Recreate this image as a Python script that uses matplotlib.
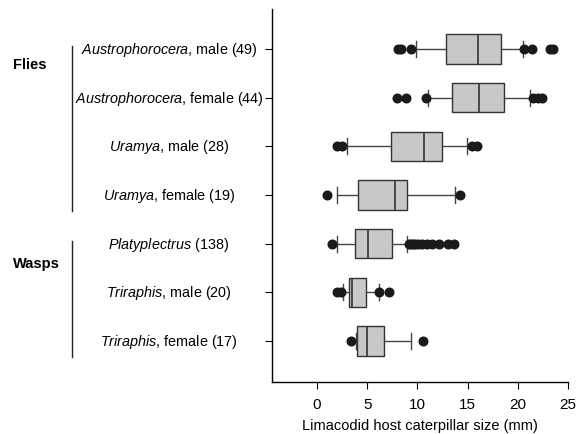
import matplotlib
matplotlib.use("Agg")
import matplotlib.pyplot as plt
import matplotlib.transforms as mtransforms

plt.rcParams["font.family"] = ["Liberation Sans", "DejaVu Sans"]
plt.rcParams["mathtext.fontset"] = "custom"
plt.rcParams["mathtext.rm"] = "Liberation Sans"
plt.rcParams["mathtext.it"] = "Liberation Sans:italic"

# genus part is set in italics
genera = ["Austrophorocera", "Austrophorocera", "Uramya", "Uramya",
          "Platyplectrus", "Triraphis", "Triraphis"]
suffixes = [", male (49)", ", female (44)", ", male (28)", ", female (19)",
            " (138)", ", male (20)", ", female (17)"]

whislo = [9.85, 11.1, 2.95, 2.0, 2.0, 2.55, 3.85]
q1 = [12.9, 13.4, 7.36, 4.08, 3.78, 3.18, 3.98]
med = [16.0, 16.1, 10.65, 7.76, 5.04, 3.45, 5.0]
q3 = [18.3, 18.6, 12.44, 8.96, 7.5, 4.9, 6.63]
whishi = [20.5, 21.2, 14.96, 13.7, 9.0, 6.17, 9.32]
fliers = [
    [8.1, 8.4, 9.4, 20.6, 21.4, 23.2, 23.5],
    [8.0, 8.9, 10.9, 21.5, 22.0, 22.4],
    [1.95, 2.45, 15.4, 15.95],
    [1.03, 14.2],
    [1.5, 9.2, 9.4, 9.6, 9.8, 10.1, 10.5, 11.0, 11.5, 12.2, 13.0, 13.6],
    [1.96, 2.36, 6.17, 7.16],
    [3.38, 10.6],
]

groups = ["Flies", "Wasps"]
group_rows = [(1, 4), (5, 7)]

stats = []
for i in range(len(genera)):
    stats.append({"whislo": whislo[i], "q1": q1[i], "med": med[i], "q3": q3[i],
                  "whishi": whishi[i], "fliers": fliers[i]})

fig = plt.figure(figsize=(5.76, 4.35), dpi=100)
ax = fig.add_axes([0.472, 0.12, 0.514, 0.857])

positions = list(range(1, len(genera) + 1))
ax.bxp(stats, positions=positions, vert=False, widths=0.6, patch_artist=True,
       boxprops=dict(facecolor="#c8c8c8", edgecolor="#333333", linewidth=1.0),
       medianprops=dict(color="#333333", linewidth=1.2),
       whiskerprops=dict(color="#444444", linewidth=1.0),
       capprops=dict(color="#444444", linewidth=1.0),
       capwidths=0.33,
       flierprops=dict(marker="o", markerfacecolor="#1a1a1a", markeredgecolor="#1a1a1a",
                       markersize=6.2))

ax.set_xlim(-4.5, 25)
ax.set_ylim(7.84, 0.18)
ax.set_xticks([0, 5, 10, 15, 20, 25])
ax.set_yticks(positions)
ax.set_yticklabels([])
ax.tick_params(axis="both", direction="out", length=5, width=0.8, labelsize=11)
ax.tick_params(axis="x", pad=6)
ax.set_xlabel("Limacodid host caterpillar size (mm)", fontsize=10.5, labelpad=5)
for s in ["top", "right"]:
    ax.spines[s].set_visible(False)
for s in ["left", "bottom"]:
    ax.spines[s].set_linewidth(1.0)

# row labels, centered in the left margin
trans = mtransforms.blended_transform_factory(fig.transFigure, ax.transData)
for pos, g, s in zip(positions, genera, suffixes):
    ax.text(169 / 576, pos, "$\\it{" + g + "}$" + s, transform=trans,
            ha="center", va="center", fontsize=10.4, clip_on=False)

# group labels and brackets
group_label_pos = [1.31, 5.39]
for g, (a, b), yl in zip(groups, group_rows, group_label_pos):
    ax.text(13 / 576, yl, g, transform=trans, ha="left", va="center",
            fontsize=10.5, fontweight="bold", clip_on=False)
    ax.plot([72 / 576, 72 / 576], [a - 0.06, b + 0.33], transform=trans,
            color="#222222", linewidth=1.0, clip_on=False)

fig.savefig("out.png", dpi=100)
